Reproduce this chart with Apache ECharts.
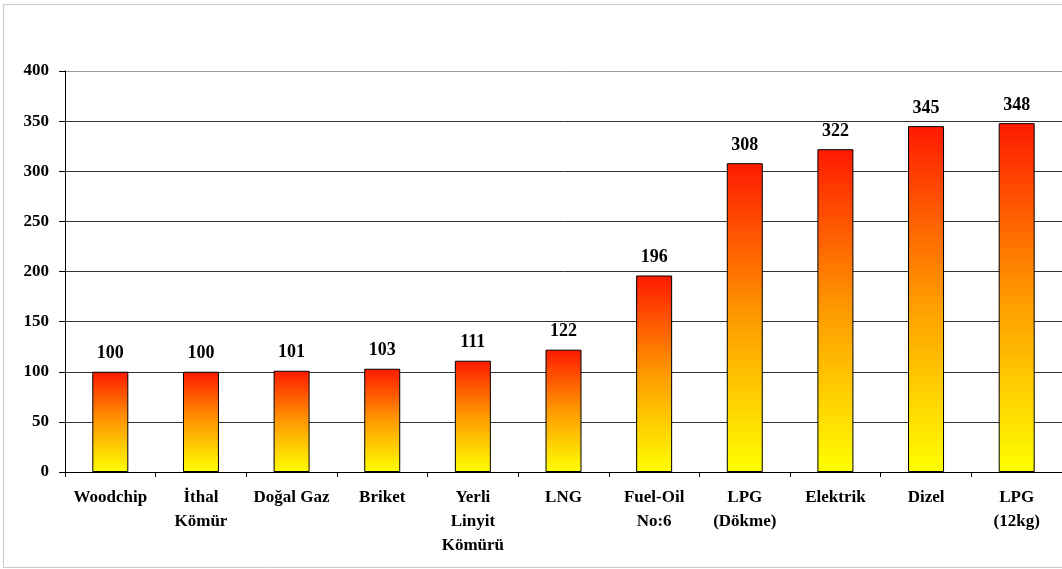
<!DOCTYPE html>
<html>
<head>
<meta charset="utf-8">
<script src="https://cdn.jsdelivr.net/npm/echarts@6/dist/echarts.min.js"></script>
<style>
  html, body { margin: 0; padding: 0; background: #fff; }
  #chart { width: 1062px; height: 569px; }
</style>
</head>
<body>
<div id="chart"></div>
<script>
// Fuel cost index by energy source
const categories = [
  'Woodchip', 'İthal\nKömür', 'Doğal Gaz', 'Briket', 'Yerli\nLinyit\nKömürü',
  'LNG', 'Fuel-Oil\nNo:6', 'LPG\n(Dökme)', 'Elektrik', 'Dizel', 'LPG\n(12kg)'
];
const values = [100, 100, 101, 103, 111, 122, 196, 308, 322, 345, 348];
const yTicks = { min: 0, max: 400, interval: 50 };

const serif = '"Liberation Serif", "Times New Roman", serif';

const chart = echarts.init(document.getElementById('chart'), null, { renderer: 'canvas' });

chart.setOption({
  backgroundColor: '#fff',
  animation: false,
  graphic: [{
    type: 'rect',
    shape: { x: 3.5, y: 4.5, width: 1070, height: 563 },
    style: { fill: 'none', stroke: '#c8c8c8', lineWidth: 1 },
    silent: true,
    z: -10
  }],
  grid: { left: 65, right: -1, top: 71, bottom: 97, containLabel: false },
  xAxis: {
    type: 'category',
    data: categories,
    axisLine: { lineStyle: { color: '#000', width: 1 } },
    axisTick: { show: true, length: 5, alignWithLabel: false, lineStyle: { color: '#000' } },
    axisLabel: {
      interval: 0,
      margin: 14,
      color: '#000',
      fontFamily: serif,
      fontWeight: 'bold',
      fontSize: 17,
      lineHeight: 24
    },
    splitLine: { show: false }
  },
  yAxis: {
    type: 'value',
    min: yTicks.min,
    max: yTicks.max,
    interval: yTicks.interval,
    axisLine: { show: true, lineStyle: { color: '#000', width: 1 } },
    axisTick: { show: true, length: 6, inside: false, lineStyle: { color: '#000' } },
    axisLabel: {
      margin: 16,
      color: '#000',
      fontFamily: serif,
      fontWeight: 'bold',
      fontSize: 17
    },
    splitLine: {
      show: true,
      lineStyle: {
        color: ['#333', '#333', '#333', '#333', '#333', '#333', '#333', '#333', '#9a9a9a'],
        width: 1
      }
    }
  },
  series: [{
    type: 'bar',
    data: values,
    barWidth: 36,
    itemStyle: {
      borderColor: '#000',
      borderWidth: 1,
      color: new echarts.graphic.LinearGradient(0, 0, 0, 1, [
        { offset: 0, color: '#ff1a00' },
        { offset: 0.5, color: '#ff9a00' },
        { offset: 1, color: '#ffff00' }
      ])
    },
    label: {
      show: true,
      position: 'top',
      distance: 9,
      color: '#000',
      fontFamily: serif,
      fontWeight: 'bold',
      fontSize: 18
    }
  }]
});
</script>
</body>
</html>
